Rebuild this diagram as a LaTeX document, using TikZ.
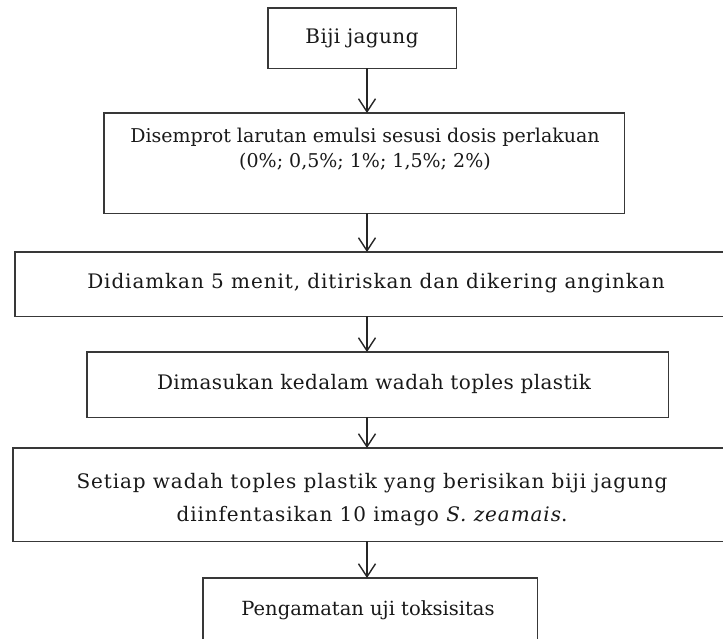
\documentclass[tikz,border=0pt]{standalone}
\usepackage{fontspec}
\setmainfont{DejaVu Serif}
\usetikzlibrary{arrows.meta}
\newcommand{\ls}[1]{\addfontfeatures{LetterSpace=#1}}
\begin{document}
\begin{tikzpicture}[x=1pt,y=-1pt,
  box/.style={draw=black!78,line width=1.6pt,fill=none},
  txt/.style={font=\fontsize{20}{25}\selectfont,align=center,inner sep=0pt,text=black!90},
  flow/.style={draw=black!85,line width=1.4pt,-{Straight Barb[length=13pt,width=17pt,line width=1.4pt]}}]
\useasboundingbox (0,0) rectangle (723,638);
% boxes
\path (268,8) node[anchor=north west,minimum width=188pt,minimum height=60pt,inner sep=0pt] (n1) {};
\path (104,113) node[anchor=north west,minimum width=520pt,minimum height=100pt,inner sep=0pt] (n2) {};
\path (15,252) node[anchor=north west,minimum width=712pt,minimum height=64pt,inner sep=0pt] (n3) {};
\path (87,352) node[anchor=north west,minimum width=581pt,minimum height=65pt,inner sep=0pt] (n4) {};
\path (13,448) node[anchor=north west,minimum width=714pt,minimum height=93pt,inner sep=0pt] (n5) {};
\path (203,578) node[anchor=north west,minimum width=334pt,minimum height=70pt,inner sep=0pt] (n6) {};
\foreach \n in {n1,n2,n3,n4,n5,n6} {\draw[box] (\n.north west) rectangle (\n.south east);}
% texts
\node[txt] (t1) at (362,38) {\ls{2}Biji jagung};
\node[txt,font=\fontsize{19}{25}\selectfont] (t2) at (365,149) {Disemprot larutan emulsi sesusi dosis perlakuan\\(0\%; 0,5\%; 1\%; 1,5\%; 2\%)};
\node[txt] (t3) at (376,283) {\ls{4.5}Didiamkan 5 menit, ditiriskan dan dikering anginkan};
\node[txt] (t4) at (374,384) {\ls{2}Dimasukan kedalam wadah toples plastik};
\node[txt] (t5) at (372,500) {\ls{4.5}Setiap wadah toples plastik yang berisikan biji jagung\\[8pt]\ls{4.5}diinfentasikan 10 imago \textit{S. zeamais}.};
\node[txt,font=\fontsize{19.5}{25}\selectfont] (t6) at (368,610) {Pengamatan uji toksisitas};
% arrows
\coordinate (ax) at (367,0);
\draw[flow] (n1.south -| ax) -- (n2.north -| ax);
\draw[flow] (n2.south -| ax) -- (n3.north -| ax);
\draw[flow] (n3.south -| ax) -- (n4.north -| ax);
\draw[flow] (n4.south -| ax) -- (n5.north -| ax);
\draw[flow] (n5.south -| ax) -- (n6.north -| ax);
\end{tikzpicture}
\end{document}
